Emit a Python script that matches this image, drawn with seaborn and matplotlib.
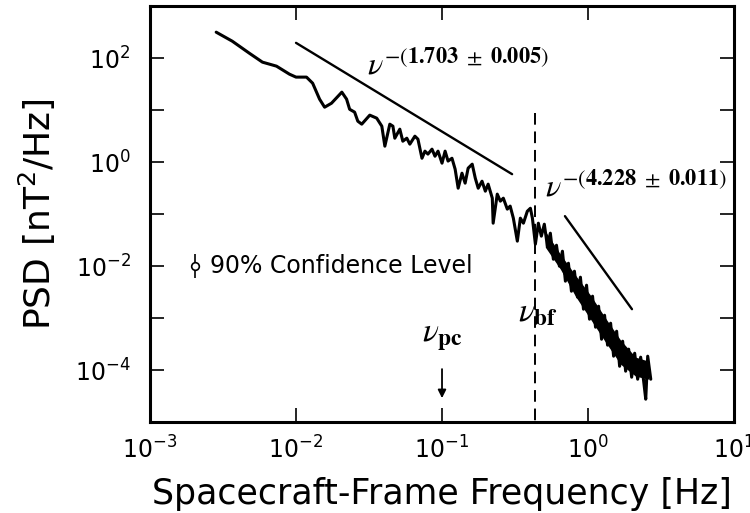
import numpy as np
import pandas as pd
import matplotlib
matplotlib.use("Agg")
import matplotlib.pyplot as plt
from matplotlib.ticker import LogLocator, FuncFormatter, NullLocator
import seaborn as sns

# spectrum (Hz, nT^2/Hz)
freq_hz = [0.00284, 0.00366, 0.00478, 0.00589, 0.00735, 0.00902, 0.0100, 0.0118, 0.0130, 0.0145,
           0.0157, 0.0175, 0.0206, 0.0222, 0.0233, 0.0252, 0.0265, 0.0282, 0.0320, 0.0357,
           0.0387, 0.0406, 0.0439, 0.0461, 0.0475, 0.0514, 0.0539, 0.0574, 0.0602, 0.0652,
           0.0684, 0.0729, 0.0764, 0.0801, 0.0854, 0.0895, 0.0939, 0.100, 0.105, 0.110,
           0.117, 0.123, 0.129, 0.137, 0.144, 0.151, 0.161, 0.169, 0.177, 0.188,
           0.198, 0.207, 0.221, 0.224, 0.239, 0.251, 0.263, 0.280, 0.293, 0.308,
           0.328, 0.344, 0.361, 0.384, 0.403, 0.416, 0.436, 0.457, 0.479, 0.502,
           0.527, 0.552, 0.579, 0.608, 0.637, 0.668, 0.700, 0.734, 0.770, 0.807,
           0.847, 0.887, 0.931, 0.977, 1.024, 1.074, 1.126, 1.181, 1.238, 1.298,
           1.361, 1.428, 1.497, 1.570, 1.646, 1.726, 1.810, 1.898, 1.990, 2.087,
           2.188, 2.294, 2.405, 2.485, 2.563, 2.69]
psd = [316, 212, 125, 83.8, 70.2, 49.2, 43.2, 43.2, 33.0, 16.3,
       11.4, 13.6, 22.2, 16.3, 10.4, 9.16, 6.14, 5.38, 8.02, 7.02,
       4.92, 2.03, 5.38, 4.92, 2.89, 4.31, 2.53, 2.89, 2.22, 3.16,
       2.77, 1.19, 1.63, 1.43, 1.78, 1.30, 1.63, 0.957, 1.63, 1.05,
       1.19, 0.733, 0.316, 0.614, 0.395, 0.767, 0.916, 0.492, 0.316, 0.431,
       0.277, 0.378, 0.203, 0.0671, 0.243, 0.178, 0.203, 0.125, 0.143, 0.0838,
       0.0303, 0.0838, 0.0671, 0.114, 0.130, 0.0838, 0.0265, 0.0671, 0.0378, 0.0642,
       0.0243, 0.0431, 0.0136, 0.0253, 0.0100, 0.0194, 0.00515, 0.0114, 0.00330, 0.00801,
       0.00254, 0.00614, 0.00149, 0.00431, 0.000957, 0.00265, 0.000671, 0.00170, 0.000394, 0.00114,
       0.000303, 0.000801, 0.000186, 0.000562, 0.000119, 0.000361, 0.0000957, 0.000254, 0.0000733, 0.000212,
       0.0000671, 0.000178, 0.0000614, 0.0000277, 0.000186, 0.0000671]

# solid core of the noisy high-frequency band
band_f = [0.510, 0.647, 0.820, 1.040, 1.319, 1.672, 2.120, 2.606]
band_hi = [0.0471, 0.0170, 0.00671, 0.00277, 0.00100, 0.000378, 0.000178, 0.000149]
band_lo = [0.0232, 0.00875, 0.00265, 0.000957, 0.000345, 0.000130, 0.0000767, 0.0000671]

# power-law fit guide lines (end points)
fit1_f = [0.01, 0.302]
fit1_p = [197, 0.588]
fit2_f = [0.695, 2.0]
fit2_p = [0.0917, 0.00149]

nu_bf = 0.434   # spectral break
nu_pc = 0.1     # proton cyclotron

df = pd.DataFrame({"f": freq_hz, "psd": psd})

sns.set_theme(style="ticks")
plt.rcParams["font.family"] = ["DejaVu Sans"]
plt.rcParams["mathtext.fontset"] = "dejavusans"
for key in ["text.color", "axes.labelcolor", "xtick.color", "ytick.color"]:
    plt.rcParams[key] = "black"

fig = plt.figure(figsize=(7.5, 5.13), dpi=100)
ax = fig.add_axes([0.2, 0.177, 0.7787, 0.811])

sns.lineplot(data=df, x="f", y="psd", ax=ax, color="black", lw=2.2,
             estimator=None, sort=False)
ax.fill_between(band_f, band_lo, band_hi, color="black", lw=0)
ax.plot(fit1_f, fit1_p, color="black", lw=1.7)
ax.plot(fit2_f, fit2_p, color="black", lw=1.7)
ax.plot([nu_bf, nu_bf], [8.7, 1e-5], color="black", lw=1.4, ls=(0, (6, 3.5)))

ax.set_xscale("log")
ax.set_yscale("log")
ax.set_xlim(1e-3, 1e1)
ax.set_ylim(1e-5, 1e3)

ax.xaxis.set_major_locator(LogLocator(base=10, numticks=10))
ax.yaxis.set_major_locator(LogLocator(base=10, numticks=20))
ax.xaxis.set_minor_locator(NullLocator())
ax.yaxis.set_minor_locator(NullLocator())
ax.xaxis.set_major_formatter(FuncFormatter(lambda v, p: r"$10^{%d}$" % round(np.log10(v))))
ax.yaxis.set_major_formatter(FuncFormatter(
    lambda v, p: r"$10^{%d}$" % round(np.log10(v)) if round(np.log10(v)) % 2 == 0 else ""))
ax.tick_params(which="both", direction="in", length=10, width=1.2,
               top=True, right=True, labelsize=17, color="black", labelcolor="black")
ax.tick_params(axis="y", pad=14)
ax.tick_params(axis="x", pad=10)
for s in ax.spines.values():
    s.set_linewidth(2.2)
    s.set_color("black")

ax.set_xlabel("Spacecraft-Frame Frequency [Hz]", fontsize=25, labelpad=10)
ax.set_ylabel("PSD [nT$^2$/Hz]", fontsize=26, labelpad=12)

# annotations
ax.text(0.0306, 49, r"$\nu^{-(\mathbf{1.703}\ \pm\ \mathbf{0.005})}$", fontsize=23,
        math_fontfamily="stix", va="baseline", ha="left")
ax.text(0.507, 0.222, r"$\nu^{-(\mathbf{4.228}\ \pm\ \mathbf{0.011})}$", fontsize=23,
        math_fontfamily="stix", va="baseline", ha="left", clip_on=False)
ax.text(0.332, 8.7e-4, r"$\nu_{\mathbf{bf}}$", fontsize=24, math_fontfamily="stix",
        va="baseline", ha="left")
ax.text(0.073, 3.6e-4, r"$\nu_{\mathbf{pc}}$", fontsize=24, math_fontfamily="stix",
        va="baseline", ha="left")
ax.annotate("", xy=(nu_pc, 2.9e-5), xytext=(nu_pc, 1.05e-4),
            arrowprops=dict(arrowstyle="-|>", color="black", lw=1.3,
                            mutation_scale=12, shrinkA=0, shrinkB=0))

ax.errorbar([0.00203], [0.0100], yerr=[[0.00411], [0.0070]], fmt="o", mfc="white",
            mec="black", ecolor="black", ms=5.5, mew=1.2, elinewidth=1.2, capsize=0)
ax.text(0.00258, 0.0100, "90% Confidence Level", fontsize=17, va="center", ha="left")

fig.savefig("out.png", dpi=100)
